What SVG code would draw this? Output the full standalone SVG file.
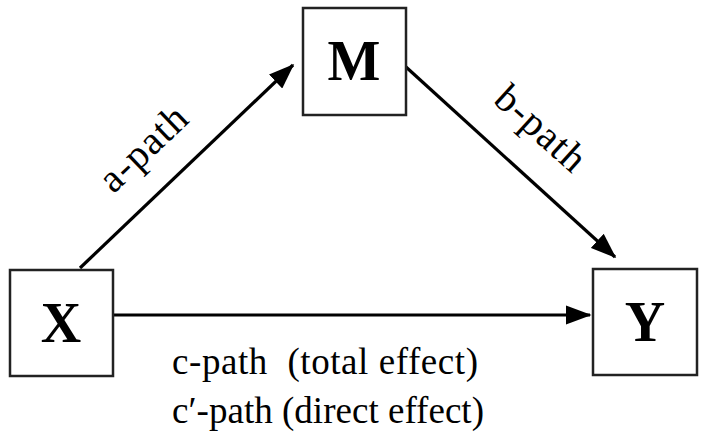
<svg xmlns="http://www.w3.org/2000/svg" width="712" height="441" viewBox="0 0 712 441">
<style>
.box{fill:#fff;stroke:#222;stroke-width:2.5}
.nl{font-family:"Liberation Serif",serif;font-weight:bold;font-size:56px;fill:#000;text-anchor:middle}
.el{font-family:"Liberation Serif",serif;font-size:37px;fill:#000}
.rl{font-family:"Liberation Serif",serif;font-size:40px;fill:#000;text-anchor:middle}
.edge{stroke:#000;stroke-width:3.2;fill:none}
</style>
<defs>
<marker id="ah" markerWidth="8" markerHeight="6" refX="7.5" refY="3" orient="auto" markerUnits="strokeWidth">
<path d="M0,0 L8,3 L0,6 Z" fill="#000"/>
</marker>
</defs>
<rect width="712" height="441" fill="#fff"/>
<g id="connectors">
<line class="edge" x1="80" y1="268" x2="293" y2="65" marker-end="url(#ah)"/>
<line class="edge" x1="406" y1="67" x2="615" y2="257" marker-end="url(#ah)"/>
<line class="edge" x1="113" y1="315" x2="590" y2="315" marker-end="url(#ah)"/>
<text class="rl" textLength="106" transform="translate(152,158) rotate(-43.6)">a-path</text>
<text class="rl" textLength="108" transform="translate(532,138) rotate(42.1)">b-path</text>
<text class="el" x="172" y="374" textLength="306" xml:space="preserve">c-path  (total effect)</text>
<text class="el" x="172" y="423" textLength="312">c′-path (direct effect)</text>
</g>
<g id="X"><rect class="box" x="10" y="270" width="103" height="106"/><text class="nl" x="61" y="342">X</text></g>
<g id="M"><rect class="box" x="303" y="8" width="103" height="107"/><text class="nl" x="354" y="80">M</text></g>
<g id="Y"><rect class="box" x="593" y="269" width="104" height="106"/><text class="nl" x="645" y="341">Y</text></g>
</svg>
